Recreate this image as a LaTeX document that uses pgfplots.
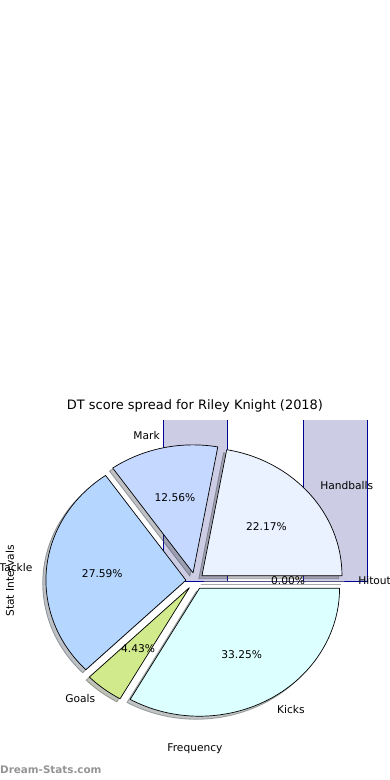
\documentclass[border=0pt]{standalone}
\usepackage{pgfplots}
\pgfplotsset{compat=1.18}
\usepackage{pgfplotstable}
\usepackage{fontspec}
\setmainfont{DejaVu Sans}

\definecolor{hb}{RGB}{234,242,255}
\definecolor{mk}{RGB}{197,216,255}
\definecolor{tk}{RGB}{181,214,255}
\definecolor{gl}{RGB}{208,234,140}
\definecolor{kk}{RGB}{220,255,255}
\definecolor{ho}{RGB}{255,255,255}
\definecolor{barfill}{RGB}{204,204,228}
\definecolor{baredge}{RGB}{0,0,150}

\pgfplotstableread{
label pct color edge
Handballs 22.17 hb black
Mark 12.56 mk black
Tackle 27.59 tk black
Goals 4.43 gl black
Kicks 33.25 kk black
Hitout 0.00 ho gray
}\piedata

\newcommand\lblfont{\fontsize{10.7}{12}\selectfont}

% build the pie drawing commands (executed inside the axis)
\gdef\cum{0}
\gdef\shadowlist{}
\gdef\wedgelist{}
\gdef\labellist{}
\pgfplotsforeachungrouped \i in {0,...,5}{%
  \pgfplotstablegetelem{\i}{pct}\of\piedata \let\p=\pgfplotsretval
  \pgfplotstablegetelem{\i}{label}\of\piedata \let\lab=\pgfplotsretval
  \pgfplotstablegetelem{\i}{color}\of\piedata \let\col=\pgfplotsretval
  \pgfplotstablegetelem{\i}{edge}\of\piedata \let\edg=\pgfplotsretval
  \pgfmathsetmacro\a{\cum}%
  \pgfmathsetmacro\b{\cum+3.6*\p}%
  \pgfmathsetmacro\m{(\a+\b)/2}%
  \pgfmathsetmacro\ox{0.065*cos(\m)}%
  \pgfmathsetmacro\oy{0.065*sin(\m)}%
  \pgfmathsetmacro\sx{\ox+cos(\a)}%
  \pgfmathsetmacro\sy{\oy+sin(\a)}%
  \pgfmathsetmacro\sox{\ox-0.023}%
  \pgfmathsetmacro\soy{\oy-0.024}%
  \pgfmathsetmacro\ssx{\sx-0.023}%
  \pgfmathsetmacro\ssy{\sy-0.024}%
  \pgfmathsetmacro\lx{\ox+1.1*cos(\m)}%
  \pgfmathsetmacro\ly{\oy+1.1*sin(\m)}%
  \pgfmathsetmacro\px{\ox+0.6*cos(\m)}%
  \pgfmathsetmacro\py{\oy+0.6*sin(\m)}%
  \ifdim\lx pt>0pt \def\anc{west}\else\def\anc{east}\fi
  \xdef\shadowlist{\unexpanded\expandafter{\shadowlist}%
    \noexpand\filldraw[fill=\col!30!black,draw=\col!30!black,fill opacity=0.33,draw opacity=0.45,line width=0.8bp]
    (axis cs:\sox,\soy) -- (axis cs:\ssx,\ssy) arc[start angle=\a,end angle=\b,x radius=140bp,y radius=128bp] -- cycle;}%
  \xdef\wedgelist{\unexpanded\expandafter{\wedgelist}%
    \noexpand\filldraw[fill=\col,draw=\edg,line width=0.7bp,line join=round]
    (axis cs:\ox,\oy) -- (axis cs:\sx,\sy) arc[start angle=\a,end angle=\b,x radius=140bp,y radius=128bp] -- cycle;}%
  \xdef\labellist{\unexpanded\expandafter{\labellist}%
    \noexpand\node[anchor=\anc,font=\noexpand\lblfont,inner sep=0pt] at (axis cs:\lx,\ly) {\lab};
    \noexpand\node[anchor=center,font=\noexpand\lblfont,inner sep=0pt] at (axis cs:\px,\py) {\p\noexpand\%};}%
  \xdef\cum{\b}%
}

\begin{document}
\begin{tikzpicture}
\useasboundingbox (0,0) rectangle (390bp,780bp);
\begin{axis}[
  at={(20bp,39bp)}, anchor=south west,
  scale only axis, width=350bp, height=320bp,
  xmin=-1.25, xmax=1.25, ymin=-1.25, ymax=1.25,
  axis line style={draw=none}, xtick=\empty, ytick=\empty,
  clip mode=individual,
  title={DT score spread for Riley Knight (2018)},
  title style={at={(0.5,1.028)}, anchor=center, font=\fontsize{13}{15}\selectfont},
  xlabel={Frequency},
  xlabel style={at={(0.5,-0.025)}, anchor=center, font=\lblfont},
  ylabel={Stat Intervals},
  ylabel style={at={(-0.0286,0.5)}, anchor=center, font=\lblfont},
]
\addplot[ybar, bar width=0.457, bar shift=0pt, fill=barfill, draw=baredge, line width=0.9bp]
  coordinates {(0,2) (1,2)};
\addplot[baredge, line width=0.9bp] coordinates {(-0.228,0) (1.228,0)};
\shadowlist
\wedgelist
\labellist
\end{axis}
\node[anchor=west, text=black!42, font=\fontsize{10.4}{12}\selectfont\bfseries, inner sep=0pt] at (0bp,10bp) {Dream-Stats.com};
\end{tikzpicture}
\end{document}
